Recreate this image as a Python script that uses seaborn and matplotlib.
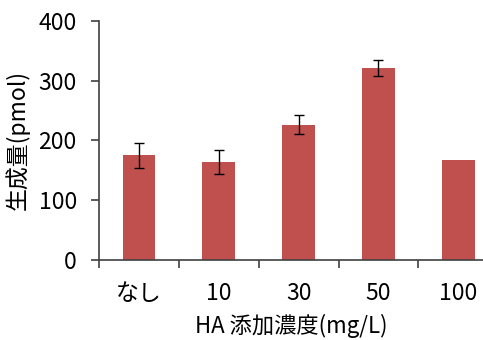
import matplotlib
matplotlib.use("Agg")
import matplotlib.pyplot as plt
import seaborn as sns
import pandas as pd
import numpy as np
from matplotlib.ticker import FixedLocator

categories = ["なし", "10", "30", "50", "100"]
values = [175, 164, 226, 321, 168]
errors = [21, 20, 16, 14, 0]
yticks = [0, 100, 200, 300, 400]

sns.set_theme(style="white")
plt.rcParams['font.family'] = ['Noto Sans CJK JP', 'DejaVu Sans']

df = pd.DataFrame({"cat": categories, "val": values})

fig = plt.figure(figsize=(4.83, 3.40), dpi=100)
ax = fig.add_axes([0.205, 0.2353, 0.795, 0.7037])

sns.barplot(data=df, x="cat", y="val", color="#C0504D", width=0.41,
            saturation=1, errorbar=None, edgecolor="none", ax=ax)

x = np.arange(len(categories))
mask = np.array(errors) > 0
ax.errorbar(x[mask], np.array(values)[mask], yerr=np.array(errors)[mask],
            fmt="none", ecolor="black", elinewidth=1.0, capsize=3.5, capthick=1.0)

ax.set_ylim(0, 400)
ax.set_xlim(-0.5, 4.31)
ax.set_yticks(yticks)
ax.set_yticklabels([str(t) for t in yticks])

ax.xaxis.set_minor_locator(FixedLocator([-0.5, 0.5, 1.5, 2.5, 3.5]))
ax.tick_params(axis="x", which="major", length=0, pad=16, labelsize=16.5, colors="black")
ax.tick_params(axis="x", which="minor", length=6, width=1.2, color="#404040", direction="out", bottom=True)
ax.tick_params(axis="y", which="major", length=6, width=1.2, color="#404040", direction="out",
               left=True, pad=10, labelsize=16.5, labelcolor="black")

for s in ["top", "right"]:
    ax.spines[s].set_visible(False)
for s in ["left", "bottom"]:
    ax.spines[s].set_color("#404040")
    ax.spines[s].set_linewidth(1.2)

ax.set_xlabel("HA 添加濃度(mg/L)", fontsize=16, color="black", labelpad=6)
ax.set_ylabel("生成量(pmol)", fontsize=16.5, color="black", labelpad=6)

fig.savefig("out.png", dpi=100)
